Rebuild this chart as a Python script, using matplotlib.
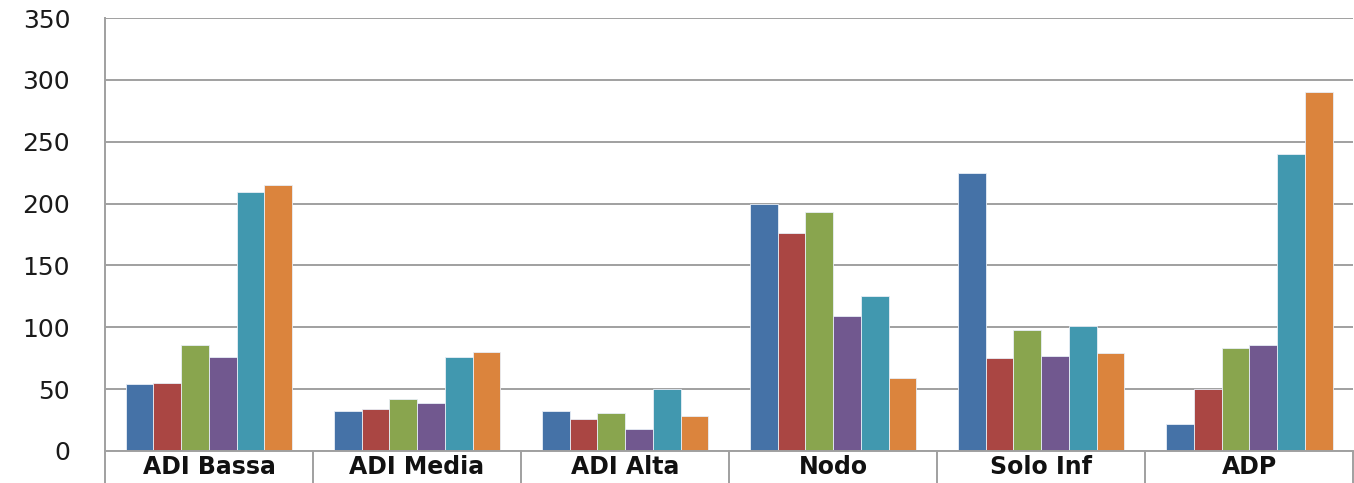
import matplotlib.pyplot as plt
import numpy as np

categories = ['ADI Bassa', 'ADI Media', 'ADI Alta', 'Nodo', 'Solo Inf', 'ADP']

serie_1 = [54, 32, 32, 200, 225, 22]
serie_2 = [55, 34, 26, 176, 75, 50]
serie_3 = [86, 42, 31, 193, 98, 83]
serie_4 = [76, 39, 18, 109, 77, 86]
serie_5 = [209, 76, 50, 125, 101, 240]
serie_6 = [215, 80, 28, 59, 79, 290]

series = [serie_1, serie_2, serie_3, serie_4, serie_5, serie_6]
colori = ['#4572A7', '#AA4643', '#89A54E', '#71588F', '#4198AF', '#DB843D']

fig = plt.figure(figsize=(13.54, 4.83), dpi=100)
ax = fig.add_axes([0.0775, 0.0663, 0.922, 0.8964])

x = np.arange(len(categories))
n = len(series)
larghezza = 0.8 / n
for i, (valori, colore) in enumerate(zip(series, colori)):
    pos = x - 0.4 + larghezza * (i + 0.5)
    ax.bar(pos, valori, width=larghezza, color=colore,
           edgecolor='#e8eef6', linewidth=0.6, zorder=3)

ax.set_xlim(-0.5, len(categories) - 0.5)
ax.set_ylim(0, 350)
ax.set_yticks(np.arange(0, 351, 50))
ax.yaxis.grid(True, color='#a0a0a0', linewidth=1.4, zorder=0)
ax.tick_params(axis='y', length=0, pad=25, labelsize=18, labelcolor='#1a1a1a')

# separatori tra le categorie
ax.set_xticks(np.arange(len(categories) + 1) - 0.5)
ax.set_xticklabels([])
ax.set_xticks(x, minor=True)
ax.set_xticklabels(categories, minor=True, fontsize=17, fontweight='bold', color='#111111')
ax.tick_params(axis='x', which='major', length=23, width=1.4, color='#a0a0a0', direction='out')
ax.tick_params(axis='x', which='minor', length=0, pad=3)

for lato in ['top', 'right']:
    ax.spines[lato].set_visible(False)
for lato in ['left', 'bottom']:
    ax.spines[lato].set_color('#a0a0a0')
    ax.spines[lato].set_linewidth(1.4)
    ax.spines[lato].set_zorder(4)

fig.savefig('out.png', dpi=100)
